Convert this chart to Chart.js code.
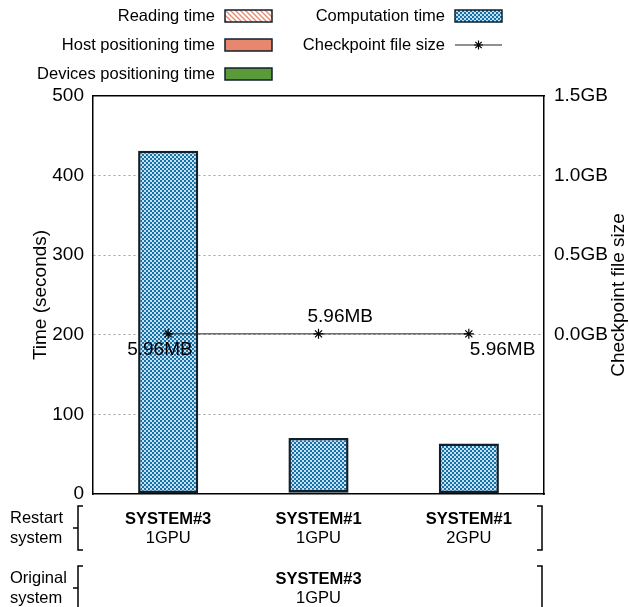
<!DOCTYPE html>
<html>
<head>
<meta charset="utf-8">
<script src="https://cdn.jsdelivr.net/npm/chart.js@4.4.0/dist/chart.umd.min.js"></script>
<style>
  html, body { margin: 0; padding: 0; background: #fff; }
  #wrap { width: 630px; height: 607px; }
</style>
</head>
<body>
<div id="wrap"><canvas id="c" width="630" height="607"></canvas></div>
<script>
// restart systems (x categories) and the system the checkpoint was taken on
const CATEGORIES = ["SYSTEM#3", "SYSTEM#1", "SYSTEM#1"];
const GPU_LABELS = ["1GPU", "1GPU", "2GPU"];
const ORIGINAL_SYSTEM = ["SYSTEM#3", "1GPU"];

// stacked times, seconds
const READING_TIME = [0.3, 0.4, 0.3];
const HOST_POS_TIME = [0.3, 0.4, 0.3];
const DEVICE_POS_TIME = [0.5, 1.5, 0.8];
const COMPUTATION_TIME = [430, 68, 62];

// checkpoint file size, GB
const CHECKPOINT_GB = [0.00596, 0.00596, 0.00596];
const CHECKPOINT_LABELS = ["5.96MB", "5.96MB", "5.96MB"];

const TIME_TICKS = [0, 100, 200, 300, 400, 500];
const SIZE_TICKS = [0, 0.5, 1.0, 1.5];

const FONT = '"Liberation Sans", Arial, sans-serif';
const BLUE = "#1670a8";
const BLUE_LIGHT = "#c4e2f2";
const SALMON = "#e8866e";
const GREEN = "#5b9a3b";
const EDGE = "#10202a";

function checkerPattern() {
  const c = document.createElement("canvas");
  c.width = 4; c.height = 4;
  const g = c.getContext("2d");
  g.fillStyle = BLUE_LIGHT; g.fillRect(0, 0, 4, 4);
  g.fillStyle = BLUE; g.fillRect(0, 0, 2, 2); g.fillRect(2, 2, 2, 2);
  return g.createPattern(c, "repeat");
}
function stripePattern() {
  const c = document.createElement("canvas");
  c.width = 5; c.height = 5;
  const g = c.getContext("2d");
  g.fillStyle = "#fff"; g.fillRect(0, 0, 5, 5);
  g.strokeStyle = SALMON; g.lineWidth = 1.3;
  g.beginPath();
  g.moveTo(-1, -1); g.lineTo(6, 6);
  g.moveTo(-1, 4); g.lineTo(1, 6);
  g.moveTo(4, -1); g.lineTo(6, 1);
  g.stroke();
  return g.createPattern(c, "repeat");
}

// legend: [dataset index, column, row]
const LEGEND_LAYOUT = [[1, 0, 0], [2, 0, 1], [3, 0, 2], [4, 1, 0], [0, 1, 1]];
const LEGEND_COL_X = [225, 455];
const LEGEND_ROW_Y = [16, 45, 74];

const legendPlugin = {
  id: "gpLegend",
  afterDraw(chart) {
    const ctx = chart.ctx;
    ctx.save();
    ctx.font = "16.5px " + FONT;
    ctx.textAlign = "right";
    ctx.textBaseline = "middle";
    for (const [di, col, row] of LEGEND_LAYOUT) {
      const ds = chart.data.datasets[di];
      const x = LEGEND_COL_X[col], y = LEGEND_ROW_Y[row];
      ctx.fillStyle = "#000";
      ctx.fillText(ds.label, x - 10, y);
      if (ds.type === "line") {
        ctx.strokeStyle = "#222"; ctx.lineWidth = 1;
        ctx.beginPath(); ctx.moveTo(x, y); ctx.lineTo(x + 47, y); ctx.stroke();
        const cx = x + 23.5, r = 4.5;
        ctx.strokeStyle = "#000"; ctx.lineWidth = 1.2;
        ctx.beginPath();
        for (let k = 0; k < 4; k++) {
          const a = k * Math.PI / 4 + Math.PI / 2;
          ctx.moveTo(cx + r * Math.cos(a), y + r * Math.sin(a));
          ctx.lineTo(cx - r * Math.cos(a), y - r * Math.sin(a));
        }
        ctx.stroke();
      } else {
        ctx.fillStyle = ds.backgroundColor;
        ctx.fillRect(x, y - 6, 47, 12);
        ctx.strokeStyle = EDGE; ctx.lineWidth = 1.5;
        ctx.strokeRect(x, y - 6, 47, 12);
      }
    }
    ctx.restore();
  }
};

// size labels next to the line points: [dx, dy, align]
const LABEL_OFFSETS = [[-41, 16, "left"], [-11, -17, "left"], [1, 16, "left"]];

const pointLabelPlugin = {
  id: "pointLabels",
  afterDatasetsDraw(chart) {
    const meta = chart.getDatasetMeta(0);
    const ctx = chart.ctx;
    ctx.save();
    ctx.font = "19px " + FONT;
    ctx.fillStyle = "#000";
    ctx.textBaseline = "middle";
    meta.data.forEach((pt, i) => {
      const [dx, dy, al] = LABEL_OFFSETS[i];
      ctx.textAlign = al;
      ctx.fillText(CHECKPOINT_LABELS[i], pt.x + dx, pt.y + dy);
    });
    ctx.restore();
  }
};

const framePlugin = {
  id: "frameText",
  afterDraw(chart) {
    const ctx = chart.ctx;
    const xs = chart.scales.x;
    const area = chart.chartArea;
    ctx.save();
    ctx.fillStyle = "#000";
    ctx.textBaseline = "middle";

    // right axis title, reading upward
    ctx.font = "19px " + FONT;
    ctx.save();
    ctx.translate(619, (area.top + area.bottom) / 2);
    ctx.rotate(-Math.PI / 2);
    ctx.textAlign = "center";
    ctx.fillText("Checkpoint file size", 0, 0);
    ctx.restore();

    // category labels
    ctx.textAlign = "center";
    CATEGORIES.forEach((c, i) => {
      const x = xs.getPixelForValue(i);
      ctx.font = "bold 16.5px " + FONT;
      ctx.fillText(c, x, 519);
      ctx.font = "16.5px " + FONT;
      ctx.fillText(GPU_LABELS[i], x, 538);
    });
    const mid = xs.getPixelForValue(1);
    ctx.font = "bold 16.5px " + FONT;
    ctx.fillText(ORIGINAL_SYSTEM[0], mid, 579);
    ctx.font = "16.5px " + FONT;
    ctx.fillText(ORIGINAL_SYSTEM[1], mid, 598);

    // row titles
    ctx.textAlign = "left";
    ctx.fillText("Restart", 10, 518);
    ctx.fillText("system", 10, 538);
    ctx.fillText("Original", 10, 578);
    ctx.fillText("system", 10, 598);

    // brackets
    ctx.strokeStyle = "#000"; ctx.lineWidth = 1.5;
    for (const [y0, y1] of [[506, 550], [566, 610]]) {
      const ym = (y0 + y1) / 2;
      ctx.beginPath();
      ctx.moveTo(83, y0); ctx.lineTo(78, y0); ctx.lineTo(78, y1); ctx.lineTo(83, y1);
      ctx.moveTo(78, ym); ctx.lineTo(73, ym);
      ctx.moveTo(537, y0); ctx.lineTo(542, y0); ctx.lineTo(542, y1); ctx.lineTo(537, y1);
      ctx.stroke();
    }
    ctx.restore();
  }
};

const barCommon = {
  type: "bar",
  borderColor: EDGE,
  borderWidth: 2.5,
  borderSkipped: false,
  categoryPercentage: 0.4,
  barPercentage: 1.0,
  xAxisID: "x",
  yAxisID: "y",
};

new Chart(document.getElementById("c"), {
  data: {
    labels: CATEGORIES,
    datasets: [
      {
        type: "line", label: "Checkpoint file size", data: CHECKPOINT_GB,
        xAxisID: "x", yAxisID: "y2",
        borderColor: "#222", borderWidth: 1,
        pointStyle: "star", pointRadius: 5, pointBorderColor: "#000", pointBorderWidth: 1.2,
        pointBackgroundColor: "#000", tension: 0
      },
      { ...barCommon, label: "Reading time", data: READING_TIME, backgroundColor: stripePattern() },
      { ...barCommon, label: "Host positioning time", data: HOST_POS_TIME, backgroundColor: SALMON },
      { ...barCommon, label: "Devices positioning time", data: DEVICE_POS_TIME, backgroundColor: GREEN },
      { ...barCommon, label: "Computation time", data: COMPUTATION_TIME, backgroundColor: checkerPattern() },
    ]
  },
  options: {
    responsive: false,
    animation: false,
    layout: { padding: 0 },
    plugins: { legend: { display: false }, tooltip: { enabled: false } },
    scales: {
      x: {
        type: "category", position: "bottom", stacked: true, offset: true,
        ticks: { display: false }, grid: { display: false },
        border: { color: "#000", width: 1.5 },
        afterFit: s => { s.height = 113; }
      },
      xTop: {
        type: "category", position: "top", offset: true,
        ticks: { display: false }, grid: { display: false },
        border: { color: "#000", width: 1.5 },
        afterFit: s => { s.height = 96; }
      },
      y: {
        position: "left", stacked: true, min: 0, max: 500,
        afterBuildTicks: s => { s.ticks = TIME_TICKS.map(v => ({ value: v })); },
        ticks: { color: "#000", font: { family: FONT, size: 19 }, padding: 9 },
        grid: {
          drawTicks: false,
          color: c => (c.tick && (c.tick.value === 0 || c.tick.value === 500)) ? "rgba(0,0,0,0)" : "#a0a0a0",
          lineWidth: 1
        },
        border: { color: "#000", width: 1.5, dash: [2, 3] },
        title: { display: true, text: "Time (seconds)", color: "#000", font: { family: FONT, size: 19 }, padding: { top: 29, bottom: 0 } },
        afterFit: s => { s.width = 93; }
      },
      y2: {
        position: "right", min: -1, max: 1.5,
        afterBuildTicks: s => { s.ticks = SIZE_TICKS.map(v => ({ value: v })); },
        ticks: { color: "#000", font: { family: FONT, size: 19 }, padding: 10, callback: v => v.toFixed(1) + "GB" },
        grid: { drawOnChartArea: false, drawTicks: false },
        border: { color: "#000", width: 1.5 },
        afterFit: s => { s.width = 86; }
      }
    }
  },
  plugins: [legendPlugin, pointLabelPlugin, framePlugin]
});
</script>
</body>
</html>
